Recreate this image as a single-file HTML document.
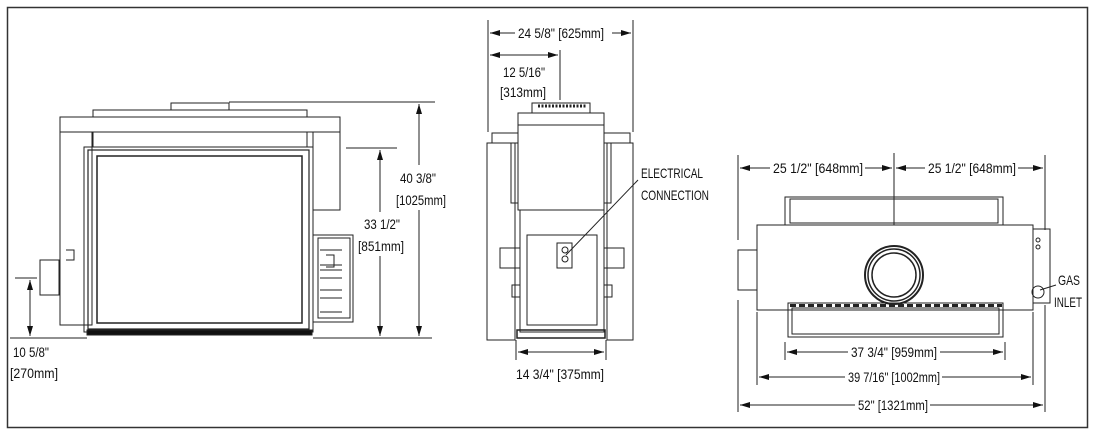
<!DOCTYPE html>
<html><head><meta charset="utf-8"><style>
html,body{margin:0;padding:0;background:#fff}
svg{display:block}
text{font-family:"Liberation Sans",sans-serif;font-size:14px;fill:#111}
</style></head><body>
<svg width="1094" height="435" viewBox="0 0 1094 435" xmlns="http://www.w3.org/2000/svg">
<defs>
<marker id="a" viewBox="0 0 10 6" refX="10" refY="3" markerWidth="10" markerHeight="6" orient="auto-start-reverse" markerUnits="userSpaceOnUse"><path d="M0,0 L10,3 L0,6 z" fill="#111"/></marker>
</defs>
<rect x="7.5" y="7.5" width="1080" height="420" fill="none" stroke="#333" stroke-width="1.5"/>
<g fill="none" stroke="#222" stroke-width="1">
<!-- LEFT VIEW -->
<rect x="171" y="103" width="58" height="7" fill="#fff"/>
<rect x="93" y="110" width="214" height="7"/>
<line x1="229" y1="102" x2="435" y2="102"/>
<rect x="60" y="117" width="280" height="15"/>
<rect x="60" y="132" width="32" height="193"/>
<rect x="313" y="132" width="27" height="78"/>
<rect x="93" y="132" width="214" height="15"/>
<rect x="84" y="147" width="229" height="185"/>
<rect x="88" y="150" width="221" height="179" stroke-width="1.2"/>
<rect x="97" y="156" width="205" height="167" stroke-width="1.5"/>
<rect x="87" y="330" width="225" height="5" fill="#111"/>
<rect x="40" y="260" width="19" height="35"/>
<rect x="313" y="235" width="40" height="87"/>
<rect x="318" y="238" width="32" height="80"/>
<path d="M320 250h22M320 265h22M320 270h22M320 278h22M320 290h22M320 298h22M320 312h22"/>
<path d="M66 250h8v10h-8M326 255h8v12h-8"/>
<line x1="346" y1="148" x2="397" y2="148"/>
<line x1="313" y1="338" x2="432" y2="338"/>
<line x1="380" y1="150" x2="380" y2="212" marker-start="url(#a)"/>
<line x1="380" y1="256" x2="380" y2="336" marker-end="url(#a)"/>
<line x1="419" y1="104" x2="419" y2="165" marker-start="url(#a)"/>
<line x1="419" y1="210" x2="419" y2="336" marker-end="url(#a)"/>
<line x1="15" y1="278" x2="37" y2="278"/>
<line x1="10" y1="338" x2="87" y2="338"/>
<line x1="30" y1="280" x2="30" y2="336" marker-start="url(#a)" marker-end="url(#a)"/>
<!-- MIDDLE VIEW -->
<line x1="488" y1="20" x2="488" y2="132"/>
<line x1="633" y1="20" x2="633" y2="132"/>
<line x1="560" y1="50" x2="560" y2="100"/>
<line x1="490" y1="33" x2="515" y2="33" marker-start="url(#a)"/>
<line x1="612" y1="33" x2="631" y2="33" marker-end="url(#a)"/>
<line x1="490" y1="55" x2="558" y2="55" marker-start="url(#a)" marker-end="url(#a)"/>
<rect x="532" y="103" width="58" height="10"/>
<path d="M538 106h48" stroke-dasharray="2 1.5" stroke-width="3"/>
<rect x="518" y="113" width="86" height="97"/>
<line x1="518" y1="125" x2="604" y2="125"/>
<rect x="492" y="133" width="26" height="10"/>
<rect x="604" y="133" width="26" height="10"/>
<rect x="487" y="143" width="28" height="197"/>
<rect x="607" y="143" width="26" height="197"/>
<rect x="511" y="143" width="7" height="60"/>
<rect x="604" y="143" width="7" height="60"/>
<rect x="520" y="210" width="84" height="122"/>
<rect x="527" y="235" width="70" height="90"/>
<rect x="500" y="248" width="20" height="20"/>
<rect x="604" y="248" width="20" height="20"/>
<rect x="512" y="285" width="8" height="12"/>
<rect x="604" y="285" width="8" height="12"/>
<rect x="517" y="330" width="88" height="8" stroke-width="1.5"/>
<rect x="557" y="243" width="15" height="25"/>
<circle cx="565" cy="250" r="3"/><circle cx="565" cy="259" r="3"/>
<line x1="566" y1="255" x2="638" y2="180"/>
<line x1="516" y1="340" x2="516" y2="360"/>
<line x1="606" y1="340" x2="606" y2="360"/>
<line x1="518" y1="352" x2="604" y2="352" marker-start="url(#a)" marker-end="url(#a)"/>
<!-- RIGHT VIEW -->
<line x1="738" y1="155" x2="738" y2="240"/>
<line x1="738" y1="300" x2="738" y2="412"/>
<line x1="1045" y1="155" x2="1045" y2="230"/>
<line x1="1045" y1="305" x2="1045" y2="412"/>
<line x1="894" y1="153" x2="894" y2="275"/>
<line x1="740" y1="168" x2="770" y2="168" marker-start="url(#a)"/>
<line x1="865" y1="168" x2="892" y2="168" marker-end="url(#a)"/>
<line x1="896" y1="168" x2="925" y2="168" marker-start="url(#a)"/>
<line x1="1018" y1="168" x2="1043" y2="168" marker-end="url(#a)"/>
<rect x="785" y="197" width="218" height="28"/>
<rect x="790" y="199" width="208" height="24"/>
<rect x="757" y="225" width="276" height="85" fill="#fff"/>
<rect x="738" y="250" width="19" height="40"/>
<rect x="1033" y="229" width="17" height="74"/>
<circle cx="1038" cy="240" r="2"/><circle cx="1038" cy="247" r="2"/>
<circle cx="1038" cy="292" r="6"/>
<circle cx="894" cy="275" r="29" stroke-width="2"/>
<circle cx="894" cy="275" r="26" stroke-width="1.5"/>
<circle cx="894" cy="275" r="22" stroke-width="1.5"/>
<rect x="788" y="303" width="215" height="34"/>
<rect x="792" y="308" width="207" height="26"/>
<path d="M790 305.5h212" stroke-dasharray="6 3" stroke-width="3"/>
<line x1="785" y1="342" x2="785" y2="360"/>
<line x1="1005" y1="342" x2="1005" y2="360"/>
<line x1="757" y1="312" x2="757" y2="385"/>
<line x1="1033" y1="312" x2="1033" y2="385"/>
<line x1="787" y1="352" x2="848" y2="352" marker-start="url(#a)"/>
<line x1="940" y1="352" x2="1003" y2="352" marker-end="url(#a)"/>
<line x1="759" y1="377" x2="845" y2="377" marker-start="url(#a)"/>
<line x1="942" y1="377" x2="1031" y2="377" marker-end="url(#a)"/>
<line x1="740" y1="405" x2="855" y2="405" marker-start="url(#a)"/>
<line x1="930" y1="405" x2="1043" y2="405" marker-end="url(#a)"/>
<line x1="1040" y1="290" x2="1056" y2="285"/>
</g>
<g>
<text x="400" y="183" textLength="36" lengthAdjust="spacingAndGlyphs">40 3/8"</text>
<text x="396" y="205" textLength="50" lengthAdjust="spacingAndGlyphs">[1025mm]</text>
<text x="364" y="229" textLength="36" lengthAdjust="spacingAndGlyphs">33 1/2"</text>
<text x="358" y="251" textLength="46" lengthAdjust="spacingAndGlyphs">[851mm]</text>
<text x="13" y="357" textLength="36" lengthAdjust="spacingAndGlyphs">10 5/8"</text>
<text x="10" y="378" textLength="48" lengthAdjust="spacingAndGlyphs">[270mm]</text>
<text x="518" y="38" textLength="86" lengthAdjust="spacingAndGlyphs">24 5/8" [625mm]</text>
<text x="503" y="77" textLength="42" lengthAdjust="spacingAndGlyphs">12 5/16"</text>
<text x="500" y="97" textLength="46" lengthAdjust="spacingAndGlyphs">[313mm]</text>
<text x="641" y="178" textLength="62" lengthAdjust="spacingAndGlyphs">ELECTRICAL</text>
<text x="641" y="200" textLength="68" lengthAdjust="spacingAndGlyphs">CONNECTION</text>
<text x="516" y="379" textLength="88" lengthAdjust="spacingAndGlyphs">14 3/4" [375mm]</text>
<text x="773" y="173" textLength="90" lengthAdjust="spacingAndGlyphs">25 1/2" [648mm]</text>
<text x="928" y="173" textLength="88" lengthAdjust="spacingAndGlyphs">25 1/2" [648mm]</text>
<text x="1058" y="285" textLength="22" lengthAdjust="spacingAndGlyphs">GAS</text>
<text x="1054" y="307" textLength="28" lengthAdjust="spacingAndGlyphs">INLET</text>
<text x="851" y="357" textLength="86" lengthAdjust="spacingAndGlyphs">37 3/4" [959mm]</text>
<text x="848" y="382" textLength="92" lengthAdjust="spacingAndGlyphs">39 7/16" [1002mm]</text>
<text x="858" y="410" textLength="70" lengthAdjust="spacingAndGlyphs">52" [1321mm]</text>
</g>
</svg>
</body></html>
